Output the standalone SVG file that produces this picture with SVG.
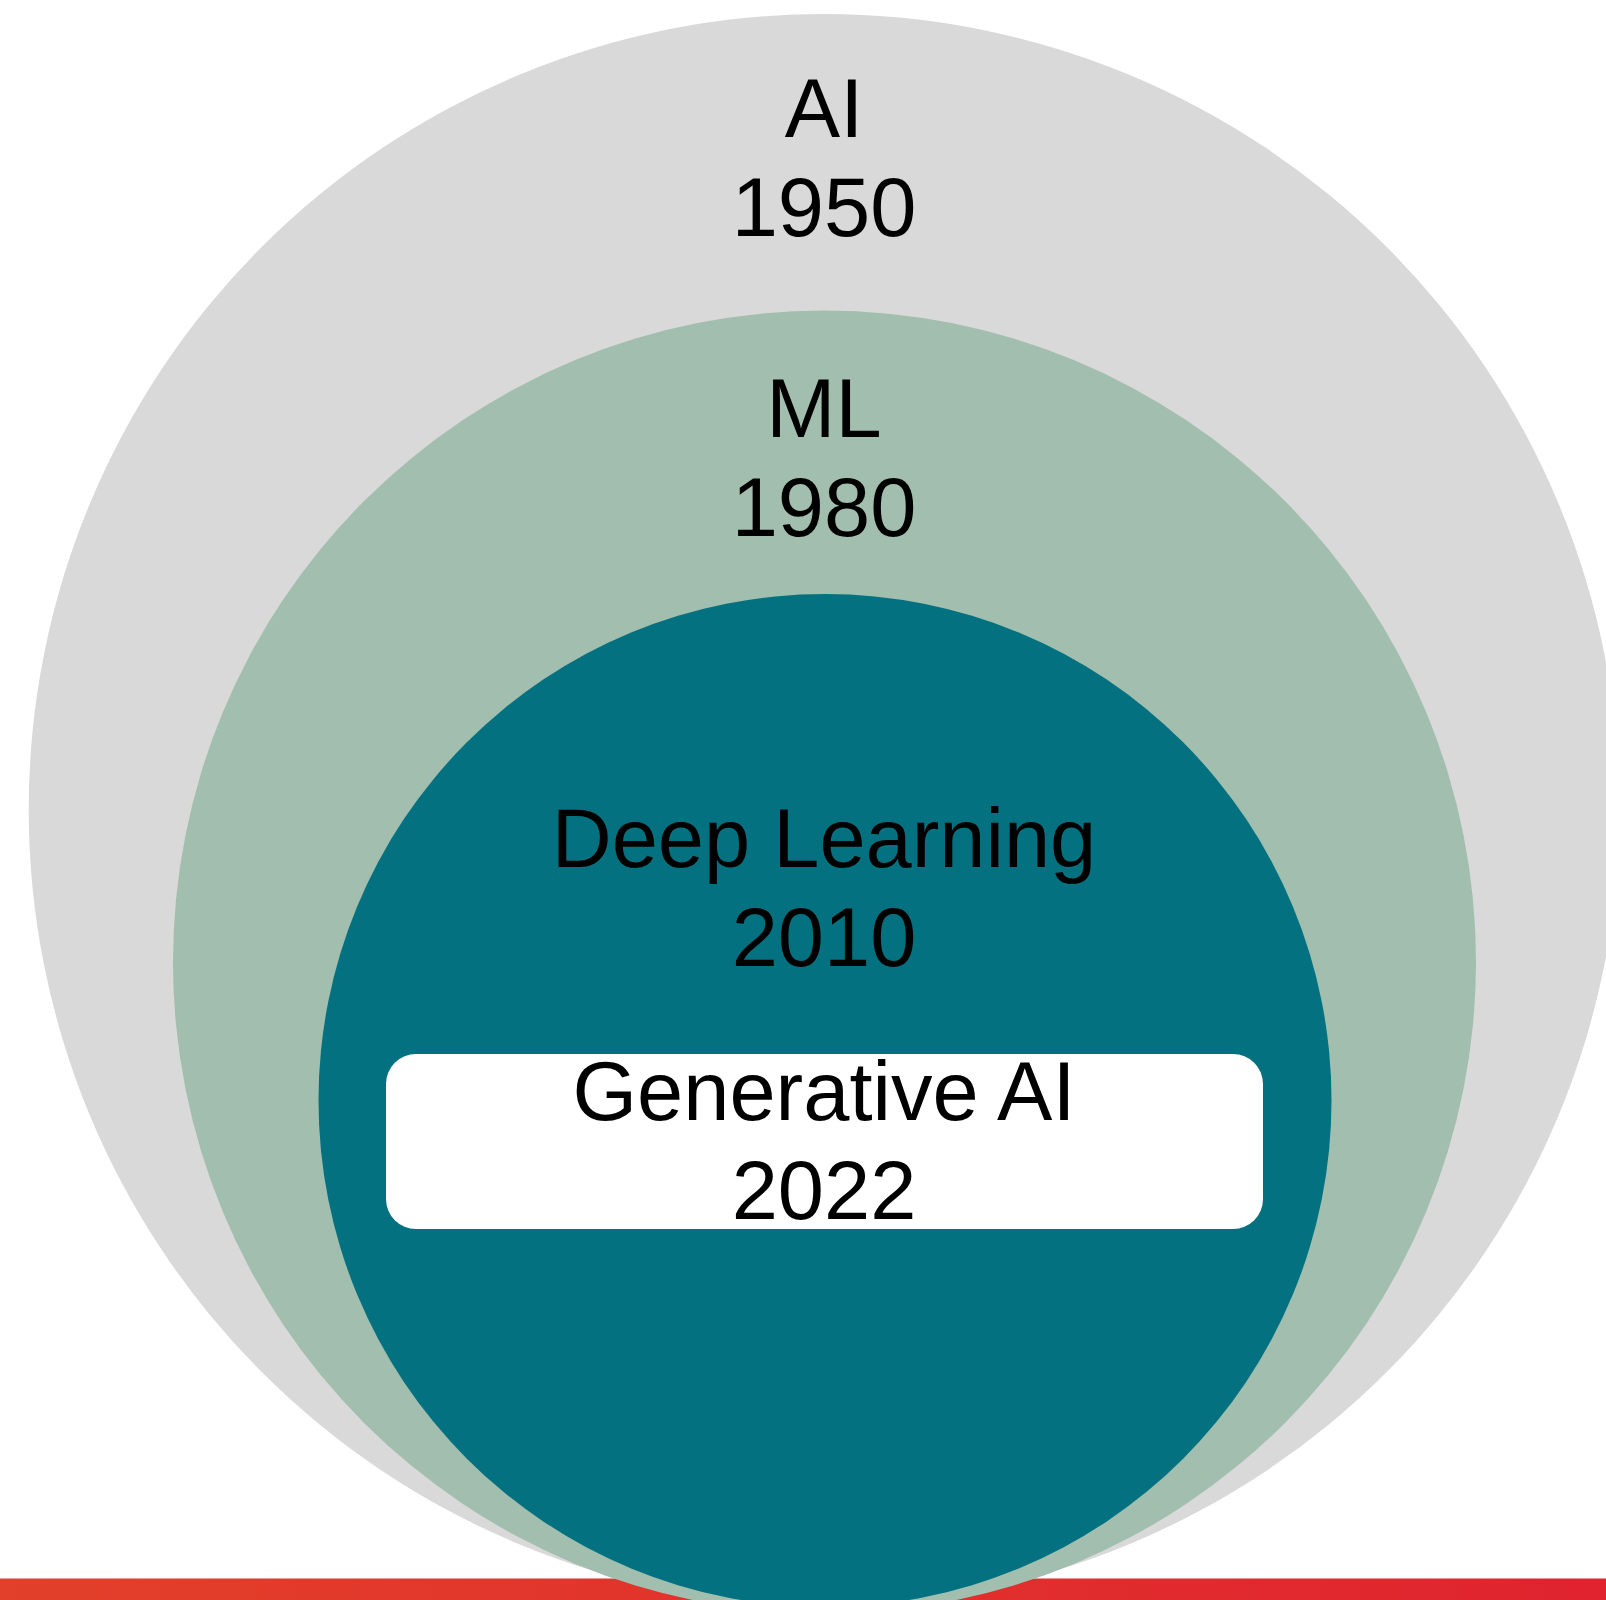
<svg xmlns="http://www.w3.org/2000/svg" width="1606" height="1600" viewBox="0 0 1606 1600">
  <defs>
    <linearGradient id="barGrad" x1="0" y1="0" x2="1" y2="0">
      <stop offset="0" stop-color="#E2402A"/>
      <stop offset="1" stop-color="#E0232F"/>
    </linearGradient>
    <style>
      .lbl { font-family: "Liberation Sans", Arial, sans-serif; font-size: 83px; fill: #000000; text-anchor: middle; }
    </style>
  </defs>
  <rect x="0" y="0" width="1606" height="1600" fill="#ffffff"/>
  <g id="ai">
    <circle cx="824.2" cy="809.5" r="795.5" fill="#D9D9D9"/>
  </g>
  <g id="bar">
    <rect x="0" y="1578.5" width="1606" height="21.5" fill="url(#barGrad)"/>
  </g>
  <g id="ml">
    <circle cx="824.5" cy="962" r="651.5" fill="#A1BEAF"/>
  </g>
  <g id="dl">
    <circle cx="825" cy="1100.5" r="506.5" fill="#03717F"/>
  </g>
  <g id="genai">
    <rect x="386" y="1054" width="877" height="175" rx="30" ry="30" fill="#FFFFFF"/>
  </g>
  <g id="connectors"/>
  <g id="labels">
    <text class="lbl" x="824" y="137">AI</text>
    <text class="lbl" x="824" y="236">1950</text>
    <text class="lbl" x="824" y="437">ML</text>
    <text class="lbl" x="824" y="536">1980</text>
    <text class="lbl" x="824" y="867">Deep Learning</text>
    <text class="lbl" x="824" y="966">2010</text>
    <text class="lbl" x="824" y="1120">Generative AI</text>
    <text class="lbl" x="824" y="1219">2022</text>
  </g>
</svg>
